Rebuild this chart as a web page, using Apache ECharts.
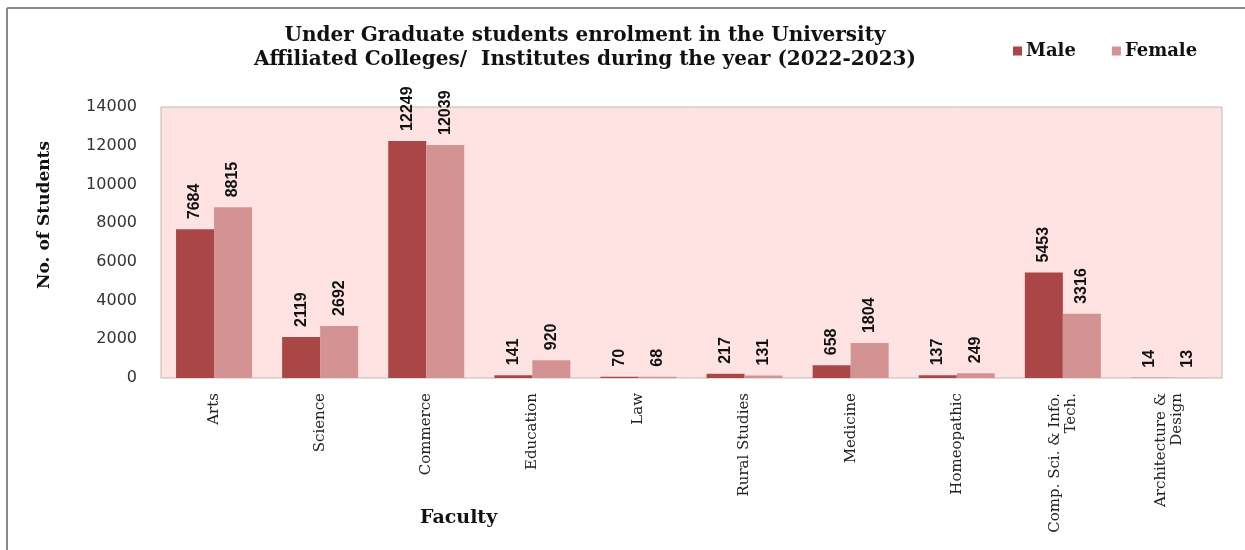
<!DOCTYPE html>
<html><head><meta charset="utf-8">
<script src="https://cdn.jsdelivr.net/npm/echarts@6/dist/echarts.min.js"></script>
<style>html,body{margin:0;padding:0;background:#fff}#c{width:1245px;height:550px}</style>
</head><body><div id="c"></div>
<script>
const categories = ['Arts','Science','Commerce','Education','Law','Rural Studies','Medicine','Homeopathic','Comp. Sci. & Info.\nTech.','Architecture &\nDesign'];
const maleValues = [7684,2119,12249,141,70,217,658,137,5453,14];
const femaleValues = [8815,2692,12039,920,68,131,1804,249,3316,13];
const yTicks = [0,2000,4000,6000,8000,10000,12000,14000];

const chart = echarts.init(document.getElementById('c'));
const lbl = {show:true, position:'top', rotate:90, align:'left', verticalAlign:'middle', distance:10,
  fontFamily:'Liberation Sans', fontWeight:'bold', fontSize:16, color:'#111'};
chart.setOption({
  animation:false,
  title:{text:'Under Graduate students enrolment in the University\nAffiliated Colleges/  Institutes during the year (2022-2023)',
    left:580, top:19, textAlign:'center',
    textStyle:{fontFamily:'DejaVu Serif', fontWeight:'bold', fontSize:20, lineHeight:24, color:'#111'}},
  legend:{top:37, left:1008, itemWidth:9, itemHeight:9, itemGap:36, icon:'rect',
    textStyle:{fontFamily:'DejaVu Serif', fontWeight:'bold', fontSize:18, color:'#111', padding:[0,0,0,-1]},
    data:['Male','Female']},
  grid:{left:161, right:23, top:107, bottom:172, show:true, backgroundColor:'#FFE3E3', borderColor:'#bbb', borderWidth:1},
  xAxis:{type:'category', data:categories,
    axisLine:{show:false}, axisTick:{show:false},
    axisLabel:{rotate:90, interval:0, margin:15, fontFamily:'DejaVu Serif', fontSize:15, color:'#222', lineHeight:16}},
  yAxis:{type:'value', min:0, max:14000, interval:2000,
    axisLabel:{margin:24, fontFamily:'DejaVu Sans', fontSize:16, color:'#333',
      formatter:v=>yTicks.includes(v)?String(v):''},
    splitLine:{show:false}, axisLine:{show:false}, axisTick:{show:false}},
  series:[
    {name:'Male', type:'bar', data:maleValues, barWidth:38, barGap:'0%', itemStyle:{color:'#AA4645'}, label:lbl},
    {name:'Female', type:'bar', data:femaleValues, barWidth:38, itemStyle:{color:'#D39392'}, label:lbl}
  ],
  graphic:[
    {type:'text', x:45, y:215, rotation:Math.PI/2, style:{text:'No. of Students', font:'bold 17px "DejaVu Serif"', fill:'#111', align:'center', verticalAlign:'middle'}},
    {type:'text', left:420, top:509, style:{text:'Faculty', font:'bold 19px "DejaVu Serif"', fill:'#111'}},
    {type:'line', shape:{x1:7, y1:8, x2:1245, y2:8}, style:{stroke:'#888', lineWidth:2}},
    {type:'line', shape:{x1:7, y1:8, x2:7, y2:550}, style:{stroke:'#888', lineWidth:2}}
  ]
});
</script></body></html>
